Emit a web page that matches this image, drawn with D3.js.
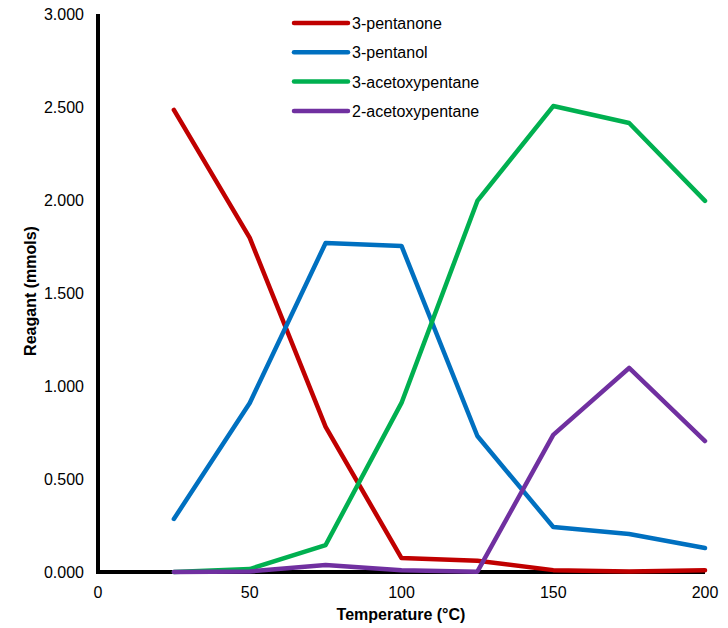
<!DOCTYPE html>
<html>
<head>
<meta charset="utf-8">
<script src="https://cdn.jsdelivr.net/npm/d3@7"></script>
<style>
  body { margin: 0; background: #fff; }
  text { font-family: "Liberation Sans", Arial, sans-serif; }
</style>
</head>
<body>
<div id="chart"></div>
<script>
var temps = [25, 50, 75, 100, 125, 150, 175, 200];
var seriesNames = ["3-pentanone", "3-pentanol", "3-acetoxypentane", "2-acetoxypentane"];
var pentanone = [2.484, 1.796, 0.780, 0.075, 0.060, 0.010, 0.003, 0.010];
var pentanol = [0.285, 0.909, 1.769, 1.753, 0.731, 0.242, 0.204, 0.129];
var acetoxy3 = [0.000, 0.016, 0.145, 0.909, 1.995, 2.505, 2.414, 1.995];
var acetoxy2 = [0.000, 0.003, 0.038, 0.010, 0.002, 0.737, 1.097, 0.704];
var xTicks = [0, 50, 100, 150, 200];
var yTicks = [0, 0.5, 1, 1.5, 2, 2.5, 3];

var colors = ["#C00000", "#0070C0", "#00B050", "#7030A0"];
var allSeries = [pentanone, pentanol, acetoxy3, acetoxy2];

var width = 728, height = 628;
var fs = 16;
var svg = d3.select("#chart").append("svg")
    .attr("width", width)
    .attr("height", height);

var x = d3.scaleLinear().domain([0, 200]).range([98, 705]);
var y = d3.scaleLinear().domain([0, 3]).range([572, 14]);

// tick labels
svg.append("g")
    .selectAll("text")
    .data(yTicks)
    .join("text")
    .attr("x", 84)
    .attr("y", d => y(d) + 6)
    .attr("text-anchor", "end")
    .attr("font-size", fs)
    .attr("fill", "#000")
    .text(d => d3.format(".3f")(d));

svg.append("g")
    .selectAll("text")
    .data(xTicks)
    .join("text")
    .attr("x", d => x(d))
    .attr("y", 598)
    .attr("text-anchor", "middle")
    .attr("font-size", fs)
    .attr("fill", "#000")
    .text(d => d);

// axis lines
svg.append("line")
    .attr("x1", x(0)).attr("x2", x(0))
    .attr("y1", y(3)).attr("y2", y(0) + 2)
    .attr("stroke", "#000").attr("stroke-width", 4);
svg.append("line")
    .attr("x1", x(0) - 2).attr("x2", x(200))
    .attr("y1", y(0)).attr("y2", y(0))
    .attr("stroke", "#000").attr("stroke-width", 4);

// titles
svg.append("text")
    .attr("x", 401)
    .attr("y", 620)
    .attr("text-anchor", "middle")
    .attr("font-size", fs)
    .attr("font-weight", "bold")
    .text("Temperature (°C)");

svg.append("text")
    .attr("transform", "translate(36," + 291 + ") rotate(-90)")
    .attr("text-anchor", "middle")
    .attr("font-size", fs)
    .attr("font-weight", "bold")
    .text("Reagant (mmols)");

// series lines
var line = d3.line()
    .x((d, i) => x(temps[i]))
    .y(d => y(d));

svg.append("g")
    .selectAll("path")
    .data(allSeries)
    .join("path")
    .attr("d", line)
    .attr("fill", "none")
    .attr("stroke", (d, i) => colors[i])
    .attr("stroke-width", 4.5)
    .attr("stroke-linecap", "round")
    .attr("stroke-linejoin", "round");

// legend
var legend = svg.append("g")
    .selectAll("g")
    .data(seriesNames)
    .join("g")
    .attr("transform", (d, i) => "translate(294," + (23 + i * 29.3) + ")");

legend.append("line")
    .attr("x1", 0).attr("x2", 54)
    .attr("stroke", (d, i) => colors[i])
    .attr("stroke-width", 4.5)
    .attr("stroke-linecap", "round");

legend.append("text")
    .attr("x", 58)
    .attr("y", 6)
    .attr("font-size", fs)
    .attr("fill", "#000")
    .text(d => d);
</script>
</body>
</html>
